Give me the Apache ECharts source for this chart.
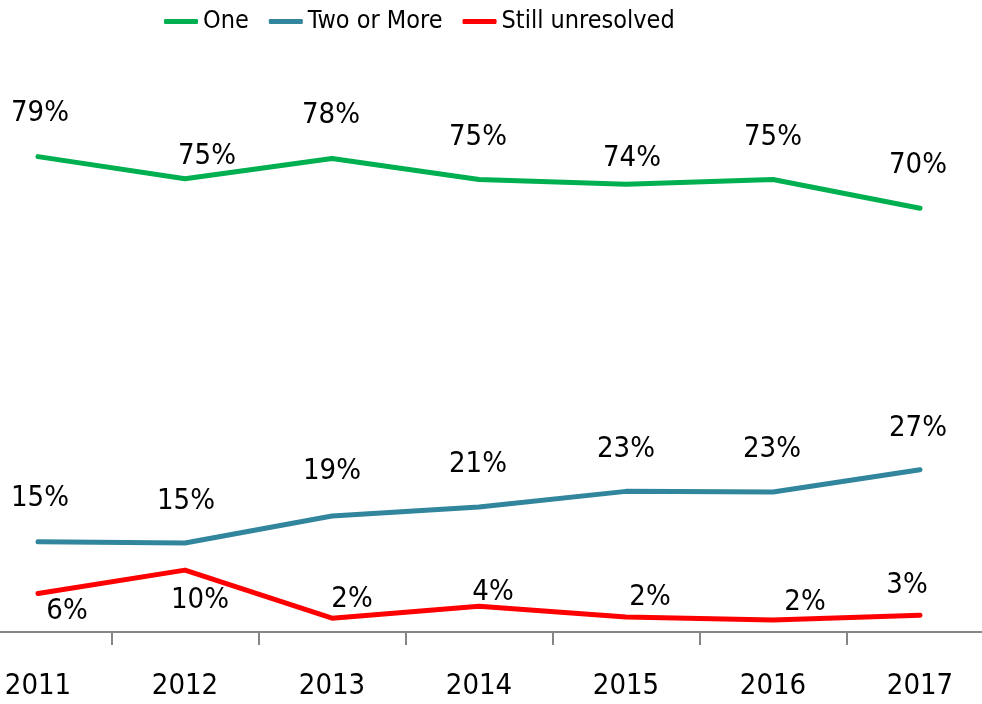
<!DOCTYPE html>
<html>
<head>
<meta charset="utf-8">
<script src="https://cdn.jsdelivr.net/npm/echarts@6/dist/echarts.min.js"></script>
<style>
html,body{margin:0;padding:0;background:#fff;}
#chart{width:982px;height:704px;}
</style>
</head>
<body>
<div id="chart"></div>
<script>
// ---- data ----
var categories = ['2011', '2012', '2013', '2014', '2015', '2016', '2017'];
var seriesNames = ['One', 'Two or More', 'Still unresolved'];
var oneValues = [79.1, 75.4, 78.8, 75.3, 74.5, 75.3, 70.5];
var twoValues = [15.0, 14.8, 19.3, 20.8, 23.4, 23.3, 27.0];
var unresolvedValues = [6.4, 10.3, 2.3, 4.3, 2.5, 2.0, 2.8];
var oneLabels = [79, 75, 78, 75, 74, 75, 70];
var twoLabels = [15, 15, 19, 21, 23, 23, 27];
var unresolvedLabels = [6, 10, 2, 4, 2, 2, 3];

// ---- styling ----
var FONT = "'Liberation Sans Narrow', 'DejaVu Sans Condensed', 'Arial Narrow', sans-serif";
var colors = ['#00B050', '#31859C', '#FF0000'];
var oneOffsets = [[2,-43],[22,-22],[-1,-43],[-1,-42],[6,-26],[0,-42],[-2,-43]];
var twoOffsets = [[2,-43],[1,-42],[0,-45],[-1,-43],[0,-42],[-1,-42],[-2,-41]];
var unresolvedOffsets = [[29,18],[15,30],[20,-19],[14,-14],[24,-20],[32,-18],[-13,-30]];

function buildData(values, labels, offsets) {
  return values.map(function (v, i) {
    return {
      value: v,
      label: { offset: offsets[i], formatter: labels[i] + '%' }
    };
  });
}

function makeSeries(name, values, labels, offsets, color) {
  return {
    name: name,
    type: 'line',
    data: buildData(values, labels, offsets),
    symbol: 'circle',
    symbolSize: 2,
    showSymbol: true,
    itemStyle: { color: color },
    lineStyle: { color: color, width: 5, cap: 'round', join: 'round' },
    label: {
      show: true,
      position: 'inside',
      color: '#000',
      fontFamily: FONT,
      fontSize: 29
    },
    emphasis: { disabled: true },
    animation: false
  };
}

var chart = echarts.init(document.getElementById('chart'), null, { renderer: 'canvas' });
chart.setOption({
  backgroundColor: '#fff',
  animation: false,
  legend: {
    data: seriesNames,
    left: 164,
    top: 9,
    padding: 0,
    icon: 'roundRect',
    itemWidth: 34,
    itemHeight: 5,
    itemGap: 20,
    textStyle: { fontFamily: FONT, fontSize: 25, color: '#000' }
  },
  grid: { left: -35.5, top: 31, width: 1029, height: 601, outerBoundsMode: 'none' },
  xAxis: {
    type: 'category',
    data: categories,
    boundaryGap: true,
    axisLine: { lineStyle: { color: '#868686', width: 2 } },
    axisTick: { show: true, length: 13, lineStyle: { color: '#868686', width: 2 } },
    axisLabel: { color: '#000', fontFamily: FONT, fontSize: 29, margin: 40 },
    splitLine: { show: false }
  },
  yAxis: {
    type: 'value',
    min: 0,
    max: 100,
    show: false,
    splitLine: { show: false }
  },
  series: [
    makeSeries(seriesNames[0], oneValues, oneLabels, oneOffsets, colors[0]),
    makeSeries(seriesNames[1], twoValues, twoLabels, twoOffsets, colors[1]),
    makeSeries(seriesNames[2], unresolvedValues, unresolvedLabels, unresolvedOffsets, colors[2])
  ]
});
</script>
</body>
</html>
